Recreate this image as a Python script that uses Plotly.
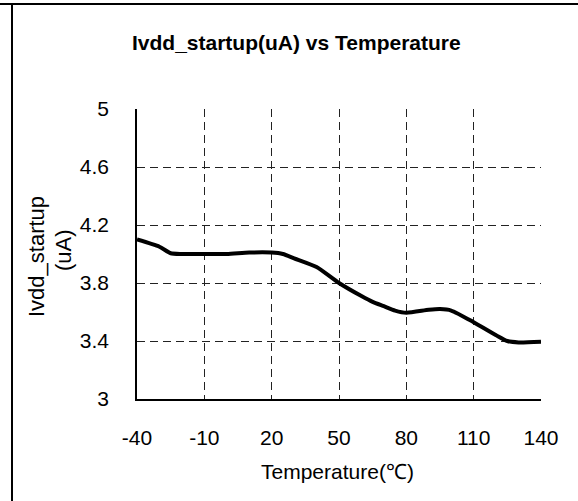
import plotly.graph_objects as go

temperature = [-40, -30, -25, -20, -10, 0, 10, 20, 25, 30, 40, 50, 60, 65, 70, 75, 80, 90, 95, 100, 110, 120, 125, 130, 140]
ivdd_startup = [4.10, 4.05, 4.005, 4.0, 4.0, 4.0, 4.01, 4.01, 4.0, 3.97, 3.91, 3.80, 3.71, 3.67, 3.64, 3.61, 3.595, 3.615, 3.62, 3.61, 3.53, 3.44, 3.40, 3.39, 3.395]

x_ticks = [-40, -10, 20, 50, 80, 110, 140]
y_ticks = [3, 3.4, 3.8, 4.2, 4.6, 5]
y_tick_labels = ["3", "3.4", "3.8", "4.2", "4.6", "5"]

FONT = "Liberation Sans, Arial, sans-serif"
W, H = 578, 501
L, R, T, B = 137, 37, 109, 102
PW, PH = W - L - R, H - T - B


def px(x):
    return (x - L) / PW


def py(y):
    return (H - B - y) / PH


fig = go.Figure()
fig.add_trace(go.Scatter(
    x=temperature, y=ivdd_startup, mode="lines",
    line=dict(color="black", width=4, shape="spline", smoothing=0.6),
    showlegend=False, hoverinfo="skip",
))

fig.update_layout(
    width=W, height=H,
    margin=dict(l=L, r=R, t=T, b=B),
    paper_bgcolor="white", plot_bgcolor="white",
    font=dict(family=FONT, color="black", size=21),
    shapes=[
        dict(type="line", xref="paper", yref="paper", x0=px(0), x1=px(W),
             y0=py(4), y1=py(4), line=dict(color="black", width=2)),
        dict(type="line", xref="paper", yref="paper", x0=px(12), x1=px(12),
             y0=py(4), y1=py(H), line=dict(color="black", width=2)),
    ],
    annotations=[
        dict(text="<b>Ivdd_startup(uA) vs Temperature</b>", xref="paper", yref="paper",
             x=px(130), y=py(42), xanchor="left", yanchor="middle", showarrow=False,
             font=dict(size=21, family=FONT)),
        dict(text="Temperature(℃)", xref="paper", yref="paper",
             x=px(337), y=py(471), xanchor="center", yanchor="middle", showarrow=False,
             font=dict(size=21, family=FONT)),
        dict(text="Ivdd_startup", xref="paper", yref="paper", textangle=-90,
             x=px(36), y=py(257), xanchor="center", yanchor="middle", showarrow=False,
             font=dict(size=22, family=FONT)),
        dict(text="(uA)", xref="paper", yref="paper", textangle=-90,
             x=px(63), y=py(250), xanchor="center", yanchor="middle", showarrow=False,
             font=dict(size=22, family=FONT)),
    ],
)

fig.update_xaxes(
    range=[-40, 140], tickvals=x_ticks, ticktext=[str(v) for v in x_ticks],
    showline=True, linecolor="black", linewidth=1.5, mirror=False,
    showgrid=True, gridcolor="#222", griddash="8px,5px", gridwidth=1,
    ticks="", ticklabelstandoff=19, tickfont=dict(size=21),
    zeroline=False, automargin=False,
)
fig.update_yaxes(
    range=[3, 5], tickvals=y_ticks, ticktext=y_tick_labels,
    showline=True, linecolor="black", linewidth=1.5, mirror=False,
    showgrid=True, gridcolor="#222", griddash="8px,5px", gridwidth=1,
    ticks="", ticklabelstandoff=22, tickfont=dict(size=21),
    zeroline=False, automargin=False,
)

fig.write_html("out.html", config={"displayModeBar": False},
               post_script="document.body.style.margin='0';")
